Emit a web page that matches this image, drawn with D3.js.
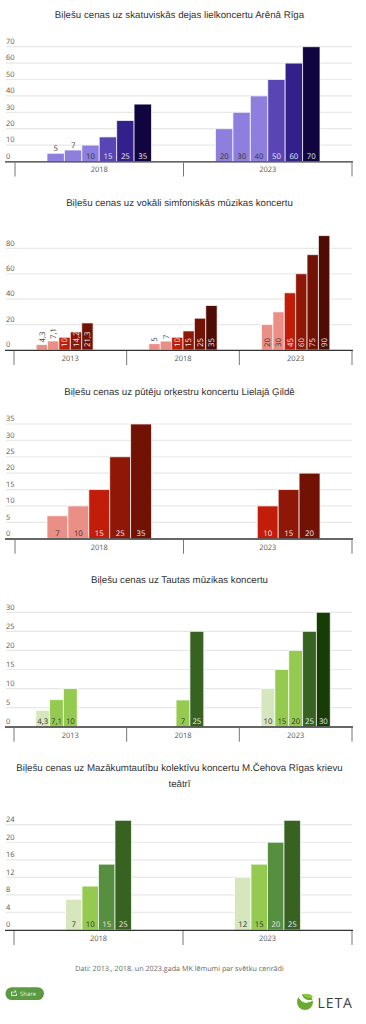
<!DOCTYPE html>
<html><head><meta charset="utf-8">
<script src="https://d3js.org/d3.v7.min.js"></script>
<style>html,body{margin:0;padding:0;background:#fff;overflow:hidden}svg{display:block;text-rendering:geometricPrecision}</style>
</head><body><div id="c"></div>
<script>
// Chart titles (one array entry per rendered line)
const titles1 = ["Biļešu cenas uz skatuviskās dejas lielkoncertu Arēnā Rīga"];
const titles2 = ["Biļešu cenas uz vokāli simfoniskās mūzikas koncertu"];
const titles3 = ["Biļešu cenas uz pūtēju orķestru koncertu Lielajā Ģildē"];
const titles4 = ["Biļešu cenas uz Tautas mūzikas koncertu"];
const titles5 = ["Biļešu cenas uz Mazākumtautību kolektīvu koncertu M.Čehova Rīgas krievu","teātrī"];

const categories1 = ["2018","2023"];
const categories2 = ["2013","2018","2023"];
const categories3 = ["2018","2023"];
const categories4 = ["2013","2018","2023"];
const categories5 = ["2018","2023"];

// series values: outer = category, inner = slot within the group (null = empty)
const values1 = [[5,7,10,15,25,35],[20,30,40,50,60,70]];
const values2 = [[4.3,7.1,10,14.2,21.3,null],[5,7,10,15,25,35],[20,30,45,60,75,90]];
const values3 = [[7,10,15,25,35],[null,null,10,15,20]];
const values4 = [[4.3,7.1,10,null,null],[null,null,7,25,null],[10,15,20,25,30]];
const values5 = [[7,10,15,25],[12,15,20,25]];

const colors1 = ["#8e7fdf","#8e7fdf","#8e7fdf","#5a45b5","#33208a","#11053f"];
const colors2 = ["#ea8f85","#ea8f85","#c21d08","#8f1707","#711205","#4f0c04"];
const colors3 = ["#ea8f85","#ea8f85","#c21d08","#8f1707","#711205"];
const colors4 = ["#d6e6bd","#95ca50","#95ca50","#386221","#173c06"];
const colors5 = ["#d6e6bd","#95ca50","#558f3f","#386221"];

const ticks1 = [0,10,20,30,40,50,60,70];
const ticks2 = [0,20,40,60,80];
const ticks3 = [0,5,10,15,20,25,30,35];
const ticks4 = [0,5,10,15,20,25,30];
const ticks5 = [0,4,8,12,16,20,24];

const sourceText = "Dati: 2013., 2018. un 2023.gada MK lēmumi par svētku cenrādi";

// layout of each panel
const panels = [
 {t:titles1,titleY:[17.5],cats:categories1,vals:values1,cols:colors1,ticks:ticks1,y0:161.5,yTop:46.7,vTop:70,rot:false,xL:15,pad:.19},
 {t:titles2,titleY:[206],cats:categories2,vals:values2,cols:colors2,ticks:ticks2,y0:350,yTop:248.3,vTop:80,rot:true,xL:14,pad:.197},
 {t:titles3,titleY:[394.5],cats:categories3,vals:values3,cols:colors3,ticks:ticks3,y0:538.7,yTop:424,vTop:35,rot:false,xL:15,pad:.19},
 {t:titles4,titleY:[583],cats:categories4,vals:values4,cols:colors4,ticks:ticks4,y0:726.7,yTop:612.3,vTop:30,rot:false,xL:14,pad:.193},
 {t:titles5,titleY:[771,786.5],cats:categories5,vals:values5,cols:colors5,ticks:ticks5,y0:930,yTop:824.7,vTop:24,rot:false,xL:14,pad:.305}
];

const W=366,H=1024;
const svg=d3.select("#c").append("svg").attr("width",W).attr("height",H);
const labelFont="'Open Sans',sans-serif", titleFont="'Liberation Sans',Arial,sans-serif";

function lum(c){const r=d3.rgb(c);return (0.299*r.r+0.587*r.g+0.114*r.b);}

panels.forEach(p=>{
  const g=svg.append("g");
  g.selectAll("text.title").data(p.t).join("text").attr("class","title")
    .attr("x",179.5).attr("y",(d,i)=>p.titleY[i]).attr("text-anchor","middle")
    .attr("font-family",titleFont).attr("font-size",9.7).attr("fill","#333").text(d=>d);

  const y=d3.scaleLinear().domain([0,p.vTop]).range([p.y0,p.yTop]);
  const x=d3.scaleBand().domain(p.cats).range([p.xL,352]);
  const n=p.cols.length;
  const pad=x.bandwidth()*p.pad;
  const slot=d3.scaleBand().domain(d3.range(n)).range([pad,x.bandwidth()-pad]);
  const limit=p.rot?11:13;

  // grid
  g.append("g").selectAll("line").data(p.ticks.filter(v=>v>0)).join("line")
    .attr("x1",6).attr("x2",352).attr("y1",d=>y(d)).attr("y2",d=>y(d))
    .attr("stroke","#e8e8e8").attr("stroke-width",1.2);
  // y labels
  g.append("g").selectAll("text").data(p.ticks).join("text")
    .attr("x",6).attr("y",d=>y(d)-2.7).attr("font-family",labelFont).attr("font-size",7.5).attr("fill","#555").text(d=>d);

  // bars
  p.vals.forEach((row,ci)=>{
    const gx=x(p.cats[ci]);
    const cg=g.append("g").attr("transform",`translate(${gx},0)`);
    const items=row.map((v,i)=>({v,i})).filter(d=>d.v!==null);
    cg.selectAll("rect").data(items).join("rect")
      .attr("x",d=>slot(d.i)).attr("width",slot.bandwidth())
      .attr("y",d=>y(d.v)).attr("height",d=>p.y0-y(d.v))
      .attr("fill",d=>p.cols[d.i]).attr("stroke","#fff").attr("stroke-opacity",.7).attr("stroke-width",1);
    cg.selectAll("text").data(items).join("text")
      .attr("font-family",labelFont).attr("font-size",7.8)
      .attr("fill",d=>{
        const outside=(p.y0-y(d.v))<limit;
        return outside?"#444":(lum(p.cols[d.i])>130?"#333":"#e8e8e8");
      })
      .attr("transform",d=>{
        const cx=slot(d.i)+slot.bandwidth()/2, tall=p.y0-y(d.v), outside=tall<limit;
        if(p.rot) return `translate(${cx+2.7},${outside?y(d.v)-2:p.y0-3}) rotate(-90)`;
        return `translate(${cx},${outside?y(d.v)-2.3:p.y0-2.8})`;
      })
      .attr("text-anchor",p.rot?"start":"middle")
      .text(d=>String(d.v).replace(".",","));
  });

  // axis
  g.append("line").attr("x1",5).attr("x2",353).attr("y1",p.y0+.3).attr("y2",p.y0+.3).attr("stroke","#333").attr("stroke-width",1.3);
  const edges=p.cats.map(c=>x(c)).concat([352]);
  g.append("g").selectAll("line").data(edges).join("line")
    .attr("x1",d=>d).attr("x2",d=>d).attr("y1",p.y0+1).attr("y2",p.y0+15).attr("stroke","#777").attr("stroke-width",1);
  g.append("g").selectAll("text").data(p.cats).join("text")
    .attr("x",d=>x(d)+x.bandwidth()/2).attr("y",p.y0+10.8).attr("text-anchor","middle")
    .attr("font-family",labelFont).attr("font-size",7.5).attr("fill","#555").text(d=>d);
});

// source
svg.append("text").attr("x",179.5).attr("y",970.5).attr("text-anchor","middle").attr("font-family",labelFont)
  .attr("font-size",7.2).attr("fill","#666").text(sourceText);

// share button
svg.append("rect").attr("x",5.5).attr("y",987.2).attr("width",38.5).attr("height",12.8).attr("rx",6.4).attr("fill","#5a9a42");
svg.append("path").attr("d","M11.5 995.5v-3.500h1.800M11.500 995.500h5v-2M13.500 993l2-1.800M14.200 991h1.500v1.500").attr("fill","none").attr("stroke","#fff").attr("stroke-width",.8);
svg.append("text").attr("x",20).attr("y",996).attr("font-family",labelFont).attr("font-size",6).attr("fill","#e8f2e0").text("Share");

// LETA logo
const lg=svg.append("g");
lg.append("circle").attr("cx",305).attr("cy",1002).attr("r",8).attr("fill","#6aaa2e");
lg.append("path").attr("d","M298 993 C299 1001 304 1005 313 1000 C307 1002 303 999 301 994 Z").attr("fill","#fff").attr("stroke","#fff").attr("stroke-width",1);
lg.append("path").attr("d","M303 994.500 C307 993 311 994 313 997 C309 999 305 998 303 994.500 Z").attr("fill","#8cc63f");
lg.append("text").attr("x",317.5).attr("y",1007.8).attr("font-family","'Open Sans',sans-serif").attr("font-size",14).attr("letter-spacing",.9).attr("fill","#3c3c3c").text("LETA");
</script></body></html>
